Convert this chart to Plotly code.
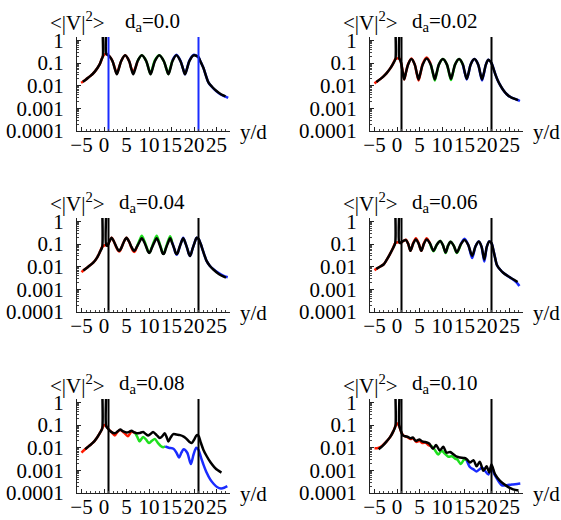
import plotly.graph_objects as go

# ---------------------------------------------------------------
# <|V|^2> versus y/d for six disorder strengths d_a
# black: full profile, red/green/blue: partial-segment profiles
# ---------------------------------------------------------------
d_a_labels = ["0.0", "0.02", "0.04", "0.06", "0.08", "0.10"]
wall_positions = [1, 21]

x_tickvals = [-5, 0, 5, 10, 15, 20, 25]
x_ticktext = ["\u22125", "0", "5", "10", "15", "20", "25"]
y_tickvals = [0.0001, 0.001, 0.01, 0.1, 1]
y_ticktext = ["0.0001", "0.001", "0.01", "0.1", "1"]

# ---- d_a = 0.0 ----
p1_black_x = [-4.7, -4.0, -3.0, -2.0, -1.0, -0.5, -0.25, -0.15, 0.38, 0.48, 0.8, 1.3, 1.9, 2.4, 2.85, 3.3, 3.8, 4.7, 5.6, 6.05, 6.5, 6.95, 7.45, 8.4, 9.4, 9.9, 10.35, 10.8, 11.3, 12.3, 13.3, 13.85, 14.3, 14.75, 15.2, 16.1, 17.0, 17.55, 18.0, 18.45, 18.95, 19.9, 20.5, 21.0, 21.5, 22.1, 23.2, 24.0, 25.0, 26.0, 27.0]
p1_black_y = [0.015, 0.019, 0.027, 0.043, 0.085, 0.15, 0.2, 50, 50, 0.26, 0.23, 0.19, 0.12, 0.057, 0.032, 0.057, 0.12, 0.22, 0.12, 0.057, 0.032, 0.057, 0.12, 0.22, 0.12, 0.057, 0.032, 0.057, 0.12, 0.22, 0.12, 0.057, 0.032, 0.057, 0.12, 0.22, 0.12, 0.057, 0.032, 0.057, 0.12, 0.22, 0.21, 0.18, 0.11, 0.06, 0.014, 0.009, 0.0058, 0.0042, 0.0034]
p1_red_x = [-5.1, -4.7, -4.0, -3.0, -2.0, -1.0, -0.5, -0.25, 0.48, 0.8, 1.3, 1.9, 2.4, 2.85, 3.3, 3.8, 4.7, 5.6, 6.05, 6.5, 6.95, 7.45]
p1_red_y = [0.0135, 0.015, 0.019, 0.027, 0.043, 0.085, 0.15, 0.2, 0.26, 0.23, 0.19, 0.12, 0.06, 0.034, 0.06, 0.12, 0.22, 0.12, 0.06, 0.04, 0.06, 0.12]
p1_green_x = [7.45, 8.4, 9.4, 9.9, 10.35, 10.8, 11.3, 12.3, 13.3, 13.85, 14.3, 14.75, 15.2]
p1_green_y = [0.12, 0.22, 0.12, 0.057, 0.033, 0.063, 0.13, 0.22, 0.12, 0.057, 0.033, 0.063, 0.13]
p1_blue_x = [15.2, 16.1, 17.0, 17.55, 18.0, 18.45, 18.95, 19.9, 20.5, 21.0, 21.5, 22.1, 23.2, 24.0, 25.0, 26.0, 27.0, 27.6]
p1_blue_y = [0.13, 0.23, 0.125, 0.058, 0.032, 0.058, 0.125, 0.23, 0.215, 0.18, 0.11, 0.06, 0.014, 0.0088, 0.0056, 0.004, 0.0033, 0.0029]

# ---- d_a = 0.02 ----
p2_black_x = [-4.6, -3.8, -3.0, -2.3, -1.5, -0.8, -0.35, -0.15, 0.38, 0.48, 0.75, 1.0, 1.3, 1.6, 1.95, 2.45, 3.2, 3.95, 4.4, 4.8, 5.2, 5.7, 6.6, 7.5, 8.0, 8.4, 8.8, 9.3, 10.2, 11.1, 11.6, 12.0, 12.4, 12.9, 13.8, 14.65, 15.1, 15.5, 15.9, 16.35, 17.2, 18.05, 18.5, 18.9, 19.3, 19.75, 20.3, 20.7, 21.0, 21.4, 21.9, 22.4, 22.9, 23.6, 24.4, 25.3, 26.2, 26.9]
p2_black_y = [0.0145, 0.019, 0.026, 0.036, 0.058, 0.1, 0.15, 50, 50, 0.16, 0.13, 0.085, 0.036, 0.019, 0.036, 0.085, 0.15, 0.085, 0.036, 0.019, 0.036, 0.085, 0.16, 0.085, 0.036, 0.019, 0.036, 0.085, 0.15, 0.085, 0.036, 0.02, 0.036, 0.085, 0.15, 0.085, 0.036, 0.02, 0.036, 0.085, 0.15, 0.085, 0.036, 0.019, 0.036, 0.085, 0.14, 0.12, 0.1, 0.06, 0.03, 0.017, 0.011, 0.0065, 0.0042, 0.0031, 0.0026, 0.0023]
p2_red_x = [-5.0, -4.6, -3.8, -3.0, -2.3, -1.5, -0.8, -0.35, 0.48, 0.75, 1.0, 1.3, 1.6, 1.95, 2.45, 3.2, 3.95, 4.4, 4.8, 5.2, 5.7, 6.6, 7.5]
p2_red_y = [0.0125, 0.0145, 0.019, 0.026, 0.036, 0.058, 0.1, 0.15, 0.16, 0.13, 0.085, 0.036, 0.019, 0.036, 0.088, 0.16, 0.085, 0.034, 0.017, 0.034, 0.09, 0.175, 0.09]
p2_green_x = [7.5, 8.0, 8.4, 8.8, 9.3, 10.2, 11.1, 11.6, 12.0, 12.4, 12.9, 13.8, 14.65]
p2_green_y = [0.09, 0.034, 0.017, 0.034, 0.085, 0.15, 0.085, 0.034, 0.018, 0.034, 0.085, 0.15, 0.085]
p2_blue_x = [14.65, 15.1, 15.5, 15.9, 16.35, 17.2, 18.05, 18.5, 18.9, 19.3, 19.75, 20.3, 20.7, 21.0, 21.4, 21.9, 22.4, 22.9, 23.6, 24.4, 25.3, 26.2, 26.9, 27.3]
p2_blue_y = [0.085, 0.035, 0.019, 0.035, 0.085, 0.15, 0.085, 0.034, 0.017, 0.034, 0.085, 0.14, 0.12, 0.1, 0.06, 0.03, 0.017, 0.011, 0.0065, 0.0042, 0.0031, 0.0026, 0.0023, 0.0021]

# ---- d_a = 0.04 ----
p3_black_x = [-4.6, -3.5, -2.4, -1.5, -0.9, -0.4, -0.15, 0.38, 0.48, 0.8, 1.2, 1.7, 2.2, 2.75, 3.1, 3.35, 3.6, 3.95, 4.45, 5.0, 5.55, 6.1, 6.45, 6.7, 6.95, 7.3, 7.85, 8.4, 8.95, 9.5, 9.8, 10.05, 10.3, 10.6, 11.15, 11.7, 12.2, 12.7, 12.95, 13.2, 13.45, 13.7, 14.2, 14.7, 15.15, 15.65, 15.9, 16.15, 16.4, 16.65, 17.1, 17.6, 18.1, 18.6, 18.85, 19.1, 19.35, 19.6, 20.1, 20.6, 21.0, 21.5, 22.0, 22.8, 23.5, 24.3, 25.5, 26.5, 27.1]
p3_black_y = [0.0068, 0.01, 0.015, 0.026, 0.045, 0.075, 50, 50, 0.09, 0.085, 0.13, 0.19, 0.13, 0.075, 0.056, 0.05, 0.056, 0.075, 0.13, 0.19, 0.13, 0.075, 0.056, 0.05, 0.056, 0.075, 0.12, 0.18, 0.12, 0.065, 0.046, 0.04, 0.046, 0.065, 0.115, 0.18, 0.115, 0.06, 0.042, 0.036, 0.042, 0.06, 0.11, 0.18, 0.11, 0.06, 0.042, 0.036, 0.042, 0.06, 0.11, 0.18, 0.11, 0.055, 0.037, 0.03, 0.037, 0.055, 0.11, 0.19, 0.17, 0.1, 0.05, 0.018, 0.011, 0.0075, 0.0048, 0.0037, 0.0033]
p3_red_x = [-5.0, -4.6, -3.5, -2.4, -1.5, -0.9, -0.4, 0.48, 0.8, 1.2, 1.7, 2.2, 2.75, 3.1, 3.35, 3.6, 3.95, 4.45, 5.0, 5.55, 6.1, 6.45, 6.7, 6.95, 7.3]
p3_red_y = [0.0058, 0.0068, 0.01, 0.015, 0.026, 0.045, 0.075, 0.09, 0.085, 0.13, 0.19, 0.13, 0.07, 0.052, 0.047, 0.052, 0.075, 0.13, 0.19, 0.13, 0.07, 0.05, 0.044, 0.05, 0.075]
p3_green_x = [7.3, 7.85, 8.4, 8.95, 9.5, 9.8, 10.05, 10.3, 10.6, 11.15, 11.7, 12.2, 12.7, 12.95, 13.2, 13.45, 13.7, 14.2, 14.7, 15.15]
p3_green_y = [0.075, 0.14, 0.23, 0.14, 0.07, 0.048, 0.041, 0.048, 0.07, 0.135, 0.23, 0.135, 0.065, 0.044, 0.037, 0.044, 0.065, 0.13, 0.22, 0.12]
p3_blue_x = [15.15, 15.65, 15.9, 16.15, 16.4, 16.65, 17.1, 17.6, 18.1, 18.6, 18.85, 19.1, 19.35, 19.6, 20.1, 20.6, 21.0, 21.5, 22.0, 22.8, 23.5, 24.3, 25.5, 26.5, 27.5]
p3_blue_y = [0.12, 0.058, 0.04, 0.034, 0.04, 0.058, 0.11, 0.19, 0.11, 0.055, 0.037, 0.03, 0.037, 0.055, 0.11, 0.19, 0.17, 0.1, 0.05, 0.018, 0.011, 0.0078, 0.0052, 0.004, 0.0034]

# ---- d_a = 0.06 ----
p4_black_x = [-4.6, -3.8, -3.0, -2.3, -1.6, -0.9, -0.4, -0.15, 0.38, 0.48, 0.8, 1.0, 1.5, 2.0, 2.5, 3.0, 3.6, 4.2, 4.8, 5.4, 6.0, 6.6, 7.35, 8.1, 8.85, 9.6, 10.2, 10.8, 11.35, 11.9, 12.6, 13.3, 14.15, 15.0, 15.85, 16.7, 17.45, 18.2, 18.8, 19.4, 19.95, 20.5, 21.0, 21.5, 21.9, 22.2, 22.9, 23.6, 24.7, 25.8, 26.8]
p4_black_y = [0.008, 0.01, 0.0125, 0.02, 0.035, 0.065, 0.11, 50, 50, 0.12, 0.11, 0.12, 0.14, 0.15, 0.1, 0.05, 0.105, 0.16, 0.105, 0.05, 0.105, 0.16, 0.105, 0.05, 0.093, 0.135, 0.09, 0.042, 0.085, 0.125, 0.085, 0.042, 0.095, 0.15, 0.09, 0.03, 0.08, 0.13, 0.075, 0.021, 0.075, 0.13, 0.11, 0.045, 0.02, 0.012, 0.0075, 0.0054, 0.0038, 0.0028, 0.0021]
p4_red_x = [-5.0, -4.6, -3.8, -3.0, -2.3, -1.6, -0.9, -0.4, 0.48, 0.8, 1.0, 1.5, 2.0, 2.5, 3.0, 3.6, 4.2, 4.8, 5.4, 6.0, 6.6, 7.35]
p4_red_y = [0.007, 0.008, 0.01, 0.0125, 0.02, 0.035, 0.065, 0.11, 0.12, 0.11, 0.12, 0.14, 0.155, 0.1, 0.05, 0.11, 0.18, 0.11, 0.05, 0.11, 0.18, 0.105]
p4_green_x = [7.35, 8.1, 8.85, 9.6, 10.2, 10.8, 11.35, 11.9, 12.6, 13.3, 14.15]
p4_green_y = [0.105, 0.048, 0.093, 0.135, 0.09, 0.04, 0.085, 0.125, 0.085, 0.04, 0.095]
p4_blue_x = [14.15, 15.0, 15.85, 16.7, 17.45, 18.2, 18.8, 19.4, 19.95, 20.5, 21.0, 21.5, 21.9, 22.2, 22.9, 23.6, 24.7, 25.8, 26.8, 27.2]
p4_blue_y = [0.095, 0.17, 0.09, 0.024, 0.08, 0.13, 0.075, 0.017, 0.075, 0.13, 0.11, 0.045, 0.02, 0.012, 0.0075, 0.0054, 0.0038, 0.0027, 0.0018, 0.0014]

# ---- d_a = 0.08 ----
p5_black_x = [-4.2, -3.3, -2.4, -1.6, -0.9, -0.4, -0.15, 0.38, 0.48, 1.0, 1.6, 2.4, 3.0, 3.6, 4.3, 5.0, 5.6, 6.1, 6.7, 7.3, 8.0, 8.7, 9.3, 9.8, 10.3, 10.9, 11.7, 12.4, 13.0, 13.5, 13.9, 14.3, 14.8, 15.4, 16.1, 16.9, 17.7, 18.4, 19.0, 19.5, 20.1, 20.6, 21.0, 21.5, 22.1, 22.8, 23.7, 24.5, 25.3, 26.1]
p5_black_y = [0.0085, 0.012, 0.017, 0.027, 0.045, 0.07, 50, 50, 0.09, 0.065, 0.05, 0.043, 0.052, 0.063, 0.052, 0.047, 0.05, 0.056, 0.048, 0.043, 0.045, 0.049, 0.04, 0.035, 0.04, 0.049, 0.036, 0.027, 0.033, 0.043, 0.03, 0.019, 0.028, 0.04, 0.038, 0.036, 0.031, 0.024, 0.018, 0.016, 0.024, 0.036, 0.033, 0.017, 0.008, 0.0043, 0.0022, 0.0014, 0.001, 0.0008]
p5_red_x = [-5.0, -4.2, -3.3, -2.4, -1.6, -0.9, -0.4, 0.0, 0.48, 1.0, 1.7, 2.4, 3.0, 3.6, 4.5, 5.3, 6.1, 6.9]
p5_red_y = [0.006, 0.0085, 0.012, 0.017, 0.027, 0.045, 0.07, 0.1, 0.09, 0.065, 0.048, 0.035, 0.05, 0.06, 0.045, 0.032, 0.05, 0.045]
p5_green_x = [6.9, 7.4, 7.9, 8.7, 9.4, 10.0, 10.6, 11.3, 12.0, 12.6, 13.2, 13.6]
p5_green_y = [0.045, 0.03, 0.019, 0.03, 0.022, 0.016, 0.02, 0.024, 0.016, 0.012, 0.0105, 0.0115]
p5_blue_x = [13.6, 14.4, 15.5, 16.1, 16.7, 17.2, 17.7, 18.5, 19.3, 19.9, 20.5, 21.0, 21.5, 22.1, 22.8, 23.6, 24.4, 25.2, 26.0, 26.7, 27.4]
p5_blue_y = [0.0115, 0.01, 0.0088, 0.006, 0.0037, 0.006, 0.0085, 0.006, 0.0019, 0.005, 0.01, 0.008, 0.004, 0.0018, 0.0008, 0.0004, 0.00025, 0.00018, 0.00016, 0.00017, 0.0002]

# ---- d_a = 0.10 ----
p6_black_x = [-4.1, -3.2, -2.3, -1.5, -0.8, -0.35, -0.15, 0.38, 0.48, 0.8, 1.3, 1.8, 2.4, 3.0, 3.5, 4.2, 5.0, 5.6, 6.1, 6.6, 7.2, 8.0, 8.7, 9.5, 10.3, 11.0, 11.8, 12.6, 13.3, 14.0, 15.0, 15.5, 16.2, 17.0, 17.7, 18.4, 19.2, 19.9, 20.5, 21.0, 21.8, 22.9, 24.4, 25.8, 27.0]
p6_black_y = [0.0085, 0.012, 0.019, 0.03, 0.054, 0.09, 50, 50, 0.1, 0.06, 0.035, 0.032, 0.03, 0.026, 0.028, 0.02, 0.023, 0.019, 0.018, 0.017, 0.015, 0.009, 0.013, 0.0075, 0.011, 0.006, 0.0065, 0.005, 0.004, 0.0037, 0.0035, 0.0031, 0.0022, 0.0028, 0.0015, 0.0024, 0.00095, 0.0015, 0.0008, 0.0018, 0.00066, 0.00034, 0.0002, 0.000145, 0.00013]
p6_red_x = [-5.0, -4.4, -3.6, -2.3, -1.5, -0.8, -0.35, 0.0, 0.48, 1.0, 1.5, 2.2, 3.0, 3.6, 4.3, 5.0, 5.6, 6.3, 7.0, 7.6]
p6_red_y = [0.0095, 0.0095, 0.011, 0.019, 0.03, 0.054, 0.09, 0.12, 0.09, 0.045, 0.034, 0.03, 0.024, 0.026, 0.018, 0.02, 0.016, 0.017, 0.013, 0.012]
p6_green_x = [7.6, 8.3, 9.2, 9.9, 10.6, 11.4, 12.2, 12.9, 13.4, 14.2, 14.9, 15.5]
p6_green_y = [0.012, 0.0085, 0.005, 0.0075, 0.0055, 0.004, 0.0042, 0.0033, 0.003, 0.0019, 0.003, 0.0028]
p6_blue_x = [15.5, 16.2, 17.0, 17.7, 18.9, 20.3, 21.0, 21.6, 22.1, 22.7, 23.3, 24.4, 25.5, 26.7, 27.4]
p6_blue_y = [0.0028, 0.0014, 0.0011, 0.0009, 0.0013, 0.00066, 0.0015, 0.0007, 0.00047, 0.0003, 0.00022, 0.00022, 0.00024, 0.00025, 0.00026]

panels = [
    (p1_black_x, p1_black_y, p1_red_x, p1_red_y, p1_green_x, p1_green_y, p1_blue_x, p1_blue_y),
    (p2_black_x, p2_black_y, p2_red_x, p2_red_y, p2_green_x, p2_green_y, p2_blue_x, p2_blue_y),
    (p3_black_x, p3_black_y, p3_red_x, p3_red_y, p3_green_x, p3_green_y, p3_blue_x, p3_blue_y),
    (p4_black_x, p4_black_y, p4_red_x, p4_red_y, p4_green_x, p4_green_y, p4_blue_x, p4_blue_y),
    (p5_black_x, p5_black_y, p5_red_x, p5_red_y, p5_green_x, p5_green_y, p5_blue_x, p5_blue_y),
    (p6_black_x, p6_black_y, p6_red_x, p6_red_y, p6_green_x, p6_green_y, p6_blue_x, p6_blue_y),
]

# ---------------------------------------------------------------
W, H = 561, 520
FONT = "Liberation Serif, Times New Roman, serif"
TICK_FONT = dict(family=FONT, size=21, color="black")
RED, GREEN, BLUE = "#ff1a00", "#1fe01f", "#1a2cff"

fig = go.Figure()
annotations = []

for i, (kx, ky, rx, ry, gx, gy, bx, by) in enumerate(panels):
    row, col = divmod(i, 2)
    left = 77 + 293 * col
    right = left + 153
    top = 37 + 181 * row
    bottom = top + 94
    s = "" if i == 0 else str(i + 1)
    xa, ya = "x" + s, "y" + s

    for xs, ys, colr, w in [(rx, ry, RED, 2.5), (gx, gy, GREEN, 2.5),
                            (bx, by, BLUE, 2.5), (kx, ky, "black", 2.5)]:
        fig.add_trace(go.Scatter(
            x=xs, y=ys, mode="lines", xaxis=xa, yaxis=ya,
            line=dict(color=colr, width=w, shape="spline", smoothing=0.8),
            showlegend=False, hoverinfo="skip"))

    wall_color = BLUE if i == 0 else "black"
    for xw in wall_positions:
        fig.add_trace(go.Scatter(
            x=[xw, xw], y=[1e-4, 10], mode="lines", xaxis=xa, yaxis=ya,
            line=dict(color=wall_color, width=2),
            showlegend=False, hoverinfo="skip"))

    fig.layout["xaxis" + s] = dict(
        domain=[left / W, right / W], range=[-6, 28], anchor=ya,
        automargin=False,
        showline=True, linecolor="#222", linewidth=1, mirror=False,
        showgrid=False, zeroline=False,
        tickmode="array", tickvals=x_tickvals, ticktext=x_ticktext,
        tickangle=0,
        ticks="inside", ticklen=4, tickwidth=1, tickcolor="#222",
        minor=dict(ticks="inside", ticklen=2, dtick=1, tickcolor="#444", showgrid=False),
        tickfont=TICK_FONT, ticklabelstandoff=-5,
    )
    fig.layout["yaxis" + s] = dict(
        domain=[1 - bottom / H, 1 - top / H], type="log", range=[-4.0, 0.15],
        anchor=xa, automargin=False,
        showline=True, linecolor="#222", linewidth=1,
        showgrid=False, zeroline=False,
        tickmode="array", tickvals=y_tickvals, ticktext=y_ticktext,
        ticks="inside", ticklen=4, tickwidth=1, tickcolor="#222",
        minor=dict(ticks="inside", ticklen=2, dtick="D1", tickcolor="#444", showgrid=False),
        tickfont=TICK_FONT, ticklabelstandoff=8,
    )

    title_y = 1 - (22 + 181 * row) / H
    annotations.append(dict(
        text="&lt;|V|<sup>2</sup>&gt;", x=left / W, y=title_y,
        xref="paper", yref="paper", xanchor="center", yanchor="middle",
        showarrow=False, font=dict(family=FONT, size=21, color="black")))
    annotations.append(dict(
        text="d<sub>a</sub>=" + d_a_labels[i], x=(left + 75) / W, y=title_y,
        xref="paper", yref="paper", xanchor="center", yanchor="middle",
        showarrow=False, font=dict(family=FONT, size=21, color="black")))
    annotations.append(dict(
        text="y/d", x=(left + 161) / W, y=1 - (bottom + 1) / H,
        xref="paper", yref="paper", xanchor="left", yanchor="middle",
        showarrow=False, font=dict(family=FONT, size=21, color="black")))

fig.update_layout(
    width=W, height=H,
    margin=dict(l=0, r=0, t=0, b=0),
    paper_bgcolor="white", plot_bgcolor="white",
    annotations=annotations,
    showlegend=False,
)

fig.write_html("out.html")
